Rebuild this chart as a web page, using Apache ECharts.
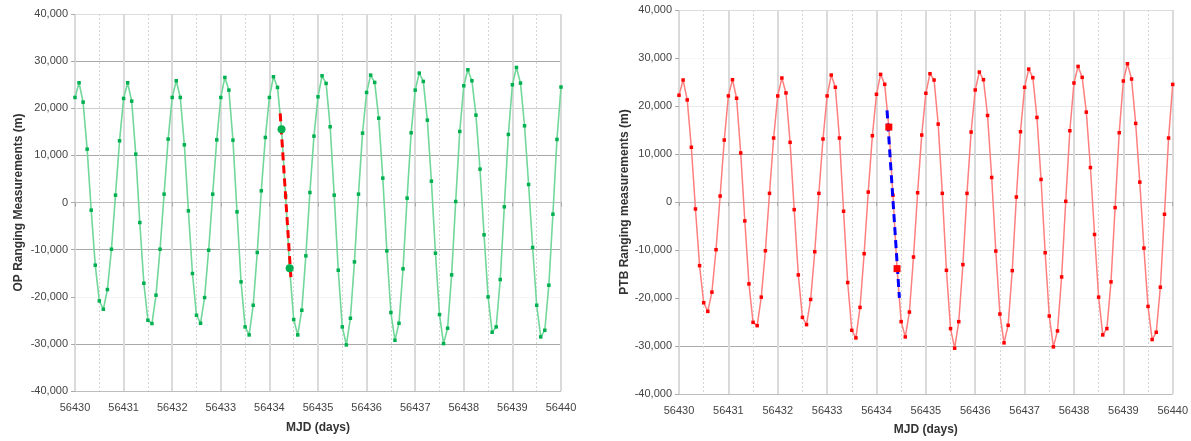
<!DOCTYPE html>
<html>
<head>
<meta charset="utf-8">
<script src="https://cdn.jsdelivr.net/npm/echarts@6/dist/echarts.min.js"></script>
<style>
html,body{margin:0;padding:0;background:#fff;}
#chart{width:1191px;height:441px;}
</style>
</head>
<body>
<div id="chart"></div>
<script>
// ---- Data ----
const startMJD = 56430;          // first sample (MJD)
const samplesPerDay = 12;        // 2-hour sampling
const xMin = 56430, xMax = 56440, xInterval = 1;
const yMin = -40000, yMax = 40000, yInterval = 10000;

// OP ranging measurements (m), one value every 2 h from MJD 56430.0
const opValues = [
  22290, 25410, 21300, 11320, -1630, -13300, -20880, -22650, -18470, -9910, 1560, 13090,
  22080, 25410, 21510, 10260, -4250, -17130, -24980, -25690, -19670, -9910, 1770, 13450,
  22290, 25830, 22290, 12240, -1770, -15070, -23920, -25620, -20170, -10120, 1770, 13300,
  22290, 26540, 23850, 13230, -1980, -16840, -26400, -28100, -21800, -10600, 2480, 13800,
  22290, 26680, 24420, 15570, 1420, -13940, -24840, -28100, -22860, -11320, 2120, 14080,
  22430, 26890, 25270, 16070, 1560, -14370, -26400, -30220, -24560, -12600, 1770, 14720,
  23350, 27030, 25480, 17900, 5170, -10260, -23350, -29230, -25620, -14080, 920, 14790,
  23850, 27460, 25690, 17480, 4530, -10760, -23780, -29940, -26680, -15360, 210, 15070,
  24770, 28170, 25830, 18540, 7080, -6860, -20030, -27530, -26400, -16350, -920, 14440,
  24980, 28660, 25340, 16280, 3820, -9550, -21800, -28520, -27110, -17550, -2480, 13380,
  24500
];

// PTB ranging measurements (m), same sampling
const ptbValues = [
  22240, 25410, 21270, 11400, -1450, -13260, -20990, -22790, -18780, -9940, 1240, 12910,
  22100, 25480, 21620, 10220, -3940, -17060, -25070, -25760, -19820, -10150, 1800, 13330,
  22100, 25830, 22720, 12430, -1590, -15190, -24030, -25550, -20300, -10360, 1800, 13120,
  22100, 26450, 23900, 13330, -1930, -16780, -26730, -28310, -21960, -10770, 2070, 13810,
  22440, 26590, 24520, 15610, 1400, -13880, -24930, -28110, -22930, -11460, 1930, 13950,
  22650, 26730, 25410, 16230, 1800, -14230, -26380, -30460, -24930, -13050, 1800, 14570,
  23340, 27070, 25480, 18020, 5110, -10220, -23340, -29350, -25690, -14300, 1040, 14640,
  23890, 27690, 25900, 17610, 4700, -10570, -23760, -30180, -26860, -15610, 140, 14850,
  24790, 28250, 25970, 18720, 7180, -6770, -19820, -27690, -26380, -16640, -1170, 14430,
  25210, 28800, 25620, 16370, 4140, -9600, -21750, -28660, -27140, -17750, -2560, 13330,
  24500
];

// highlighted samples (indices into the arrays above)
const highlightIdx = [51, 53];

// dashed connecting lines [MJD, metres]
const opDashed  = [[56434.222, 18900], [56434.448, -16770]];
const ptbDashed = [[56434.214, 19090], [56434.464, -19980]];

// ---- Build ----
function toPairs(vals){ return vals.map((v,i)=>[startMJD + i / samplesPerDay, v]); }
const opPairs = toPairs(opValues);
const ptbPairs = toPairs(ptbValues);
const opHi = highlightIdx.map(i=>opPairs[i]);
const ptbHi = highlightIdx.map(i=>ptbPairs[i]);

const FONT = 'Liberation Sans, Arial, sans-serif';
const fmtNum = v => (v < 0 ? '-' : '') + Math.abs(v).toString().replace(/\B(?=(\d{3})+(?!\d))/g, ',');

function xAxisCfg(gi, gap){
  return {
    type:'value', gridIndex:gi, min:xMin, max:xMax, interval:xInterval,
    axisLine:{show:true, lineStyle:{color:'#bdbdbd', width:1}},
    axisTick:{show:true, length:4, lineStyle:{color:'#aaa'}},
    axisLabel:{color:'#444', fontSize:11, fontFamily:FONT, margin:11, formatter:v=>String(v)},
    splitLine:{show:true, lineStyle:{color:'#dadada', width:2}},
    minorTick:{show:false, splitNumber:2},
    minorSplitLine:{show:true, lineStyle:{color:'#d6d6d6', width:1, type:[2,2]}},
    name:'MJD (days)', nameLocation:'middle', nameGap:gap,
    nameTextStyle:{fontWeight:'bold', fontSize:12, color:'#333', fontFamily:FONT}
  };
}
function yAxisCfg(gi, name, gap, colors){
  return {
    type:'value', gridIndex:gi, min:yMin, max:yMax, interval:yInterval,
    axisLine:{show:false},
    axisTick:{show:true, length:4, lineStyle:{color:'#aaa'}},
    axisLabel:{color:'#444', fontSize:11, fontFamily:FONT, margin:7, formatter:fmtNum},
    splitLine:{show:true, lineStyle:{color:colors, width:1}},
    name:name, nameLocation:'middle', nameGap:gap,
    nameTextStyle:{fontWeight:'bold', fontSize:12, color:'#333', fontFamily:FONT}
  };
}

const chart = echarts.init(document.getElementById('chart'), null, {renderer:'canvas'});
chart.setOption({
  animation:false,
  backgroundColor:'#fff',
  grid:[
    {left:75, top:14, width:486, height:377},
    {left:679, top:10, width:497, height:386}
  ],
  xAxis:[ xAxisCfg(0, 31), xAxisCfg(1, 30) ],
  yAxis:[
    yAxisCfg(0, 'OP Ranging Measurements (m)', 50,
      ['#bdbdbd','#a8a8a8','#f4f4f4','#a8a8a8','#a8a8a8','#a8a8a8','#cfcfcf','#a8a8a8','#dcdcdc']),
    yAxisCfg(1, 'PTB Ranging measurements (m)', 44,
      ['#bdbdbd','#ababab','#f6f6f6','#e8e8e8','#ababab','#ababab','#e8e8e8','#f6f6f6','#dcdcdc'])
  ],
  series:[
    {type:'line', xAxisIndex:0, yAxisIndex:0, data:opPairs, clip:true,
     lineStyle:{color:'#72d79a', width:1.6}, symbol:'rect', symbolSize:3.5,
     itemStyle:{color:'#00b050'}, z:2},
    {type:'line', xAxisIndex:0, yAxisIndex:0, data:opDashed, symbol:'none',
     lineStyle:{color:'#ff0000', width:3, type:[8,5]}, z:3},
    {type:'line', xAxisIndex:0, yAxisIndex:0, data:opHi, symbol:'circle', symbolSize:8,
     lineStyle:{width:0, opacity:0}, itemStyle:{color:'#00b050'}, z:4},

    {type:'line', xAxisIndex:1, yAxisIndex:1, data:ptbPairs, clip:true,
     lineStyle:{color:'#ff7f7f', width:1.5}, symbol:'rect', symbolSize:3.5,
     itemStyle:{color:'#ff0000'}, z:2},
    {type:'line', xAxisIndex:1, yAxisIndex:1, data:ptbDashed, symbol:'none',
     lineStyle:{color:'#0000ff', width:3, type:[8,5]}, z:3},
    {type:'line', xAxisIndex:1, yAxisIndex:1, data:ptbHi, symbol:'rect', symbolSize:7,
     lineStyle:{width:0, opacity:0}, itemStyle:{color:'#ff0000'}, z:4}
  ]
});
</script>
</body>
</html>
